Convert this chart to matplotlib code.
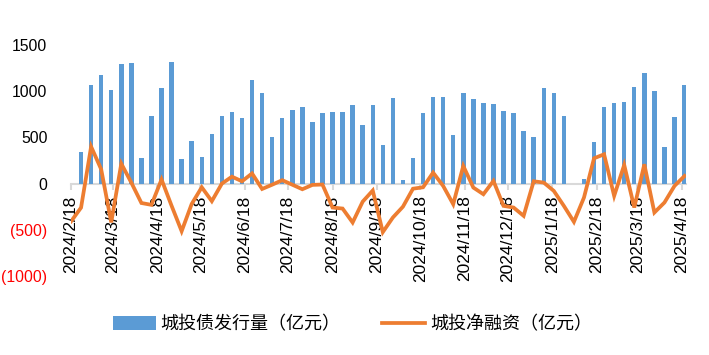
import matplotlib
matplotlib.use("Agg")
import matplotlib.pyplot as plt
import numpy as np
import pandas as pd
from matplotlib.patches import Patch
from matplotlib.lines import Line2D

plt.rcParams['font.family'] = ['Liberation Sans', 'Noto Sans CJK SC', 'DejaVu Sans']

start_date = "2024-02-18"
n_weeks = 62
dates = pd.date_range(start_date, periods=n_weeks, freq="7D")

issuance = [np.nan, 345, 1062, 1170, 1015, 1296, 1307, 281, 734, 1037,
            1318, 263, 458, 292, 540, 734, 778, 713, 1123, 983,
            508, 706, 792, 825, 663, 760, 771, 771, 847, 637,
            847, 415, 929, 37, 281, 760, 940, 940, 529, 976,
            911, 868, 857, 782, 760, 566, 501, 1037, 976, 734,
            np.nan, 47, 447, 832, 868, 886, 1048, 1199, 1004, 400,
            724, 1069]

net_financing = [-410, -260, 400, 155, -420, 216, 10, -210, -230, 45,
                 -240, -515, -220, -40, -190, 0, 75, 25, 110, -58,
                 -12, 37, -12, -61, -14, -10, -259, -270, -421, -195,
                 -75, -525, -367, -250, -55, -40, 119, -25, -223, 191,
                 -43, -115, 29, -241, -259, -349, 25, 11, -79, -241,
                 -414, -151, 274, 317, -133, 202, -259, 209, -313, -205,
                 -25, 83]

tick_dates = ["2024-02-18", "2024-03-18", "2024-04-18", "2024-05-18", "2024-06-18",
              "2024-07-18", "2024-08-18", "2024-09-18", "2024-10-18", "2024-11-18",
              "2024-12-18", "2025-01-18", "2025-02-18", "2025-03-18", "2025-04-18"]
tick_labels = ["2024/2/18", "2024/3/18", "2024/4/18", "2024/5/18", "2024/6/18",
               "2024/7/18", "2024/8/18", "2024/9/18", "2024/10/18", "2024/11/18",
               "2024/12/18", "2025/1/18", "2025/2/18", "2025/3/18", "2025/4/18"]

y_ticks = [-1000, -500, 0, 500, 1000, 1500]
y_tick_labels = ["(1000)", "(500)", "0", "500", "1000", "1500"]

legend_labels = ["城投债发行量（亿元）", "城投净融资（亿元）"]

bar_color = "#5B9BD5"
line_color = "#ED7D31"

fig = plt.figure(figsize=(7.09, 3.55), dpi=100)
ax = fig.add_axes([71/709, 1-276/355, (686-71)/709, (276-45)/355])

ax.bar(dates, issuance, width=3.1, color=bar_color, zorder=2)
ax.plot(dates, net_financing, color=line_color, lw=2.7, zorder=3,
        solid_joinstyle='miter')

ax.set_ylim(-1000, 1500)
ax.set_xlim(pd.Timestamp("2024-02-18"), pd.Timestamp("2025-04-21"))

for s in ["top", "right", "left"]:
    ax.spines[s].set_visible(False)
ax.spines["bottom"].set_position(("data", 0))
ax.spines["bottom"].set_color("#D9D9D9")
ax.spines["bottom"].set_linewidth(1.5)
ax.spines["bottom"].set_zorder(1)

ax.set_xticks([pd.Timestamp(d) for d in tick_dates])
ax.set_xticklabels(tick_labels, rotation=90, fontsize=12.5)
ax.tick_params(axis="x", length=4.5, width=1.5, color="#D9D9D9", pad=4)

ax.set_yticks(y_ticks)
ax.set_yticklabels(y_tick_labels, fontsize=11.3)
ax.tick_params(axis="y", length=0, pad=17)
for lab, v in zip(ax.get_yticklabels(), y_ticks):
    lab.set_color("#FF0000" if v < 0 else "black")

handles = [Patch(facecolor=bar_color, edgecolor="none"),
           Line2D([0], [0], color=line_color, lw=2.7)]
fig.legend(handles, legend_labels, loc="center", bbox_to_anchor=(0.497, 0.087),
           ncol=2, frameon=False, handlelength=2.4, handleheight=0.8,
           handletextpad=0.25, columnspacing=2.3,
           prop={"family": ["Noto Sans CJK SC", "DejaVu Sans"], "size": 13})

fig.savefig("out.png", dpi=100)
